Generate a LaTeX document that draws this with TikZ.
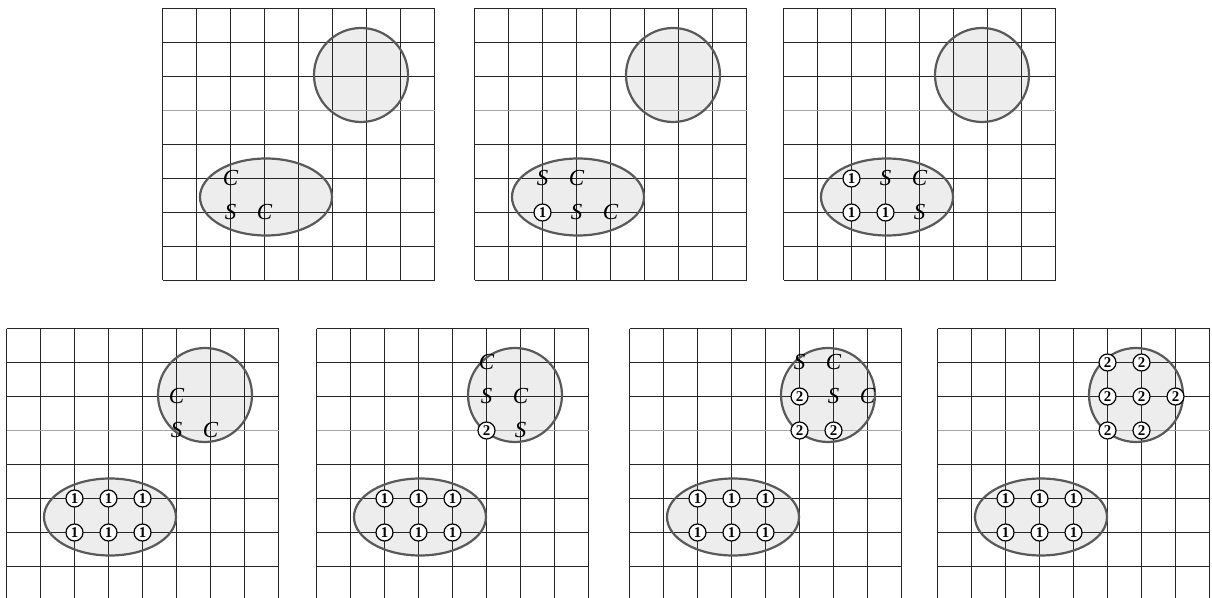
\documentclass[tikz,border=0pt]{standalone}
\usepackage{fontspec}
\setmainfont{Liberation Serif}
\begin{document}
\begin{tikzpicture}[x=1bp,y=-1bp,
  gridln/.style={draw=black!85, line width=1.8bp},
  midln/.style={draw=black!35, line width=1.8bp},
  blobfill/.style={fill=black!7},
  blobline/.style={draw=black!65, line width=2.2bp},
  lett/.style={font=\fontsize{23}{23}\selectfont\itshape, inner sep=0pt},
  num/.style={circle, draw=black, fill=white, line width=1.2bp, minimum size=17bp, inner sep=0pt, font=\fontsize{15}{15}\selectfont\bfseries}]
\def\cs{34}
\newcommand\putL[4]{\node[lett] (#1) at ({#2*\cs},{#3*\cs}) {#4};}
\newcommand\putN[4]{\node[num] (#1) at ({#2*\cs},{#3*\cs}) {#4};}
\newcommand\panelbase{%
  \fill[blobfill] (198.5,66.5) circle [radius=47bp];
  \fill[blobfill] (103.5,188.5) ellipse [x radius=66bp, y radius=38.5bp];
  \foreach \i in {0,...,8} {\draw[gridln] ({\i*\cs},0) -- ({\i*\cs},{8*\cs});}
  \foreach \j in {0,1,2,4,5,6,7,8} {\draw[gridln] (0,{\j*\cs}) -- ({8*\cs},{\j*\cs});}
  \draw[midln] (0,{3*\cs}) -- ({8*\cs},{3*\cs});
  \draw[blobline] (198.5,66.5) circle [radius=47bp];
  \draw[blobline] (103.5,188.5) ellipse [x radius=66bp, y radius=38.5bp];
}
\newcommand\ones[1]{%
  \putN{#1-2-5}{2}{5}{1}\putN{#1-3-5}{3}{5}{1}\putN{#1-4-5}{4}{5}{1}
  \putN{#1-2-6}{2}{6}{1}\putN{#1-3-6}{3}{6}{1}\putN{#1-4-6}{4}{6}{1}}
\useasboundingbox (0,0) rectangle (1212,598);
\clip (0,0) rectangle (1212,598);
% top row
\begin{scope}[shift={(162.5,8.5)}]
  \panelbase
  \putL{a-2-5}{2}{5}{C}
  \putL{a-2-6}{2}{6}{S}
  \putL{a-3-6}{3}{6}{C}
\end{scope}
\begin{scope}[shift={(474.5,8.5)}]
  \panelbase
  \putL{b-2-5}{2}{5}{S}
  \putL{b-3-5}{3}{5}{C}
  \putN{b-2-6}{2}{6}{1}
  \putL{b-3-6}{3}{6}{S}
  \putL{b-4-6}{4}{6}{C}
\end{scope}
\begin{scope}[shift={(783.5,8.5)}]
  \panelbase
  \putN{c-2-5}{2}{5}{1}
  \putL{c-3-5}{3}{5}{S}
  \putL{c-4-5}{4}{5}{C}
  \putN{c-2-6}{2}{6}{1}
  \putN{c-3-6}{3}{6}{1}
  \putL{c-4-6}{4}{6}{S}
\end{scope}
% bottom row
\begin{scope}[shift={(6.5,328.5)}]
  \panelbase
  \ones{d}
  \putL{d-5-2}{5}{2}{C}
  \putL{d-5-3}{5}{3}{S}
  \putL{d-6-3}{6}{3}{C}
\end{scope}
\begin{scope}[shift={(316.5,328.5)}]
  \panelbase
  \ones{e}
  \putL{e-5-1}{5}{1}{C}
  \putL{e-5-2}{5}{2}{S}
  \putL{e-6-2}{6}{2}{C}
  \putN{e-5-3}{5}{3}{2}
  \putL{e-6-3}{6}{3}{S}
\end{scope}
\begin{scope}[shift={(629.5,328.5)}]
  \panelbase
  \ones{f}
  \putL{f-5-1}{5}{1}{S}
  \putL{f-6-1}{6}{1}{C}
  \putN{f-5-2}{5}{2}{2}
  \putL{f-6-2}{6}{2}{S}
  \putL{f-7-2}{7}{2}{C}
  \putN{f-5-3}{5}{3}{2}
  \putN{f-6-3}{6}{3}{2}
\end{scope}
\begin{scope}[shift={(937.5,328.5)}]
  \panelbase
  \ones{g}
  \putN{g-5-1}{5}{1}{2}
  \putN{g-6-1}{6}{1}{2}
  \putN{g-5-2}{5}{2}{2}
  \putN{g-6-2}{6}{2}{2}
  \putN{g-7-2}{7}{2}{2}
  \putN{g-5-3}{5}{3}{2}
  \putN{g-6-3}{6}{3}{2}
\end{scope}
\end{tikzpicture}
\end{document}
